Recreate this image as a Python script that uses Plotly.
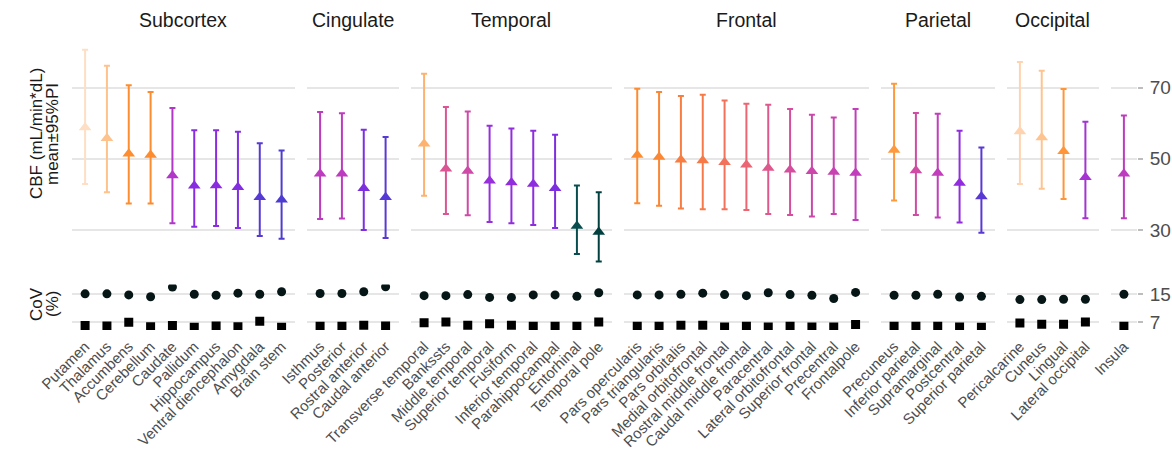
import plotly.graph_objects as go

# ---------------- data ----------------
group_titles = ["Subcortex", "Cingulate", "Temporal", "Frontal", "Parietal", "Occipital", ""]

subcortex_regions = ["Putamen", "Thalamus", "Accumbens", "Cerebellum", "Caudate", "Pallidum",
                     "Hippocampus", "Ventral diencephalon", "Amygdala", "Brain stem"]
subcortex_mean = [58.8, 55.8, 51.4, 51.1, 45.3, 42.4, 42.5, 42.0, 39.2, 38.5]
subcortex_lower = [42.9, 40.6, 37.4, 37.4, 31.9, 30.9, 31.1, 30.5, 28.3, 27.5]
subcortex_upper = [80.7, 76.2, 70.7, 68.8, 64.3, 58.0, 58.0, 57.6, 54.4, 52.3]
subcortex_cov_between = [15.0, 15.0, 14.7, 14.2, 16.9, 14.9, 14.6, 15.2, 14.9, 15.6]
subcortex_cov_within = [6.1, 6.0, 7.0, 5.8, 6.1, 5.6, 6.0, 5.8, 7.3, 5.6]

cingulate_regions = ["Isthmus", "Posterior", "Rostral anterior", "Caudal anterior"]
cingulate_mean = [45.8, 45.8, 41.7, 39.2]
cingulate_lower = [33.1, 33.2, 30.0, 27.7]
cingulate_upper = [63.2, 62.8, 58.2, 56.1]
cingulate_cov_between = [15.1, 15.1, 15.6, 17.0]
cingulate_cov_within = [5.9, 5.9, 6.2, 6.0]

temporal_regions = ["Transverse temporal", "Bankssts", "Middle temporal", "Superior temporal",
                    "Fusiform", "Inferior temporal", "Parahippocampal", "Entorhinal", "Temporal pole"]
temporal_mean = [54.2, 47.2, 46.6, 43.8, 43.3, 42.9, 41.7, 31.1, 29.4]
temporal_lower = [39.6, 34.5, 34.1, 32.2, 31.9, 31.4, 30.5, 23.2, 21.1]
temporal_upper = [73.9, 64.6, 63.3, 59.3, 58.5, 57.9, 56.8, 42.5, 40.6]
temporal_cov_between = [14.5, 14.5, 14.8, 14.0, 14.0, 14.7, 14.7, 14.3, 15.3]
temporal_cov_within = [6.9, 7.1, 6.2, 6.6, 6.2, 5.9, 5.9, 5.9, 7.1]

frontal_regions = ["Pars opercularis", "Pars triangularis", "Pars orbitalis", "Medial orbitofrontal",
                   "Rostral middle frontal", "Caudal middle frontal", "Paracentral",
                   "Lateral orbitofrontal", "Superior frontal", "Precentral", "Frontalpole"]
frontal_mean = [51.1, 50.5, 49.7, 49.5, 49.0, 48.3, 47.4, 46.9, 46.5, 46.3, 46.0]
frontal_lower = [37.5, 36.8, 36.0, 35.8, 35.8, 35.6, 34.5, 34.2, 33.8, 34.5, 32.8]
frontal_upper = [69.7, 68.8, 67.7, 68.0, 66.4, 65.5, 65.2, 64.0, 62.4, 61.6, 64.0]
frontal_cov_between = [14.7, 14.7, 14.9, 15.2, 14.8, 14.5, 15.3, 14.8, 14.6, 13.7, 15.4]
frontal_cov_within = [5.9, 5.9, 6.2, 6.2, 5.7, 5.9, 5.7, 5.9, 5.7, 5.7, 6.4]

parietal_regions = ["Precuneus", "Inferior parietal", "Supramarginal", "Postcentral", "Superior parietal"]
parietal_mean = [52.5, 46.7, 46.0, 43.2, 39.4]
parietal_lower = [38.3, 34.2, 33.5, 32.1, 29.2]
parietal_upper = [71.1, 62.9, 62.7, 57.9, 53.2]
parietal_cov_between = [14.6, 14.6, 14.9, 14.1, 14.3]
parietal_cov_within = [5.9, 5.9, 5.9, 5.7, 5.6]

occipital_regions = ["Pericalcarine", "Cuneus", "Lingual", "Lateral occipital"]
occipital_mean = [57.7, 56.0, 52.1, 44.8]
occipital_lower = [42.9, 41.6, 38.7, 33.3]
occipital_upper = [77.2, 74.8, 69.6, 60.4]
occipital_cov_between = [13.4, 13.4, 13.5, 13.5]
occipital_cov_within = [6.8, 6.5, 6.5, 7.1]

insula_regions = ["Insula"]
insula_mean = [45.8]
insula_lower = [33.3]
insula_upper = [62.2]
insula_cov_between = [14.9]
insula_cov_within = [5.9]

cbf_ticks = [30, 50, 70]
cov_ticks = [7, 15]

groups = [
    (subcortex_regions, subcortex_mean, subcortex_lower, subcortex_upper, subcortex_cov_between, subcortex_cov_within),
    (cingulate_regions, cingulate_mean, cingulate_lower, cingulate_upper, cingulate_cov_between, cingulate_cov_within),
    (temporal_regions, temporal_mean, temporal_lower, temporal_upper, temporal_cov_between, temporal_cov_within),
    (frontal_regions, frontal_mean, frontal_lower, frontal_upper, frontal_cov_between, frontal_cov_within),
    (parietal_regions, parietal_mean, parietal_lower, parietal_upper, parietal_cov_between, parietal_cov_within),
    (occipital_regions, occipital_mean, occipital_lower, occipital_upper, occipital_cov_between, occipital_cov_within),
    (insula_regions, insula_mean, insula_lower, insula_upper, insula_cov_between, insula_cov_within),
]

# ---------------- colour scale (value -> colour) ----------------
color_stops = [(29.0, "#003c3c"), (31.5, "#0b5252"), (37.0, "#3d44c9"), (39.5, "#5a37d6"),
               (42.5, "#8a2be2"), (44.5, "#9e31d8"), (46.0, "#c23dbb"), (47.3, "#dd5691"),
               (48.5, "#ee686c"), (50.0, "#fa8236"), (51.5, "#fe8e2e"), (52.5, "#fe9a3e"),
               (54.0, "#fdb06b"), (56.0, "#fec490"), (59.0, "#fee0c8")]


def hex2rgb(h):
    h = h.lstrip("#")
    return [int(h[i:i + 2], 16) for i in (0, 2, 4)]


def value_color(v):
    if v <= color_stops[0][0]:
        return color_stops[0][1]
    for (v0, c0), (v1, c1) in zip(color_stops[:-1], color_stops[1:]):
        if v0 <= v <= v1:
            t = (v - v0) / (v1 - v0)
            a, b = hex2rgb(c0), hex2rgb(c1)
            return "rgb(%d,%d,%d)" % tuple(round(a[i] + (b[i] - a[i]) * t) for i in range(3))
    return color_stops[-1][1]


# ---------------- layout geometry ----------------
W, H = 1172, 456
ML, MR, MT, MB = 72, 35, 39, 126
PW = W - ML - MR
PH = H - MT - MB
GAP_X = 12.3
TOP_H = 233.2
GAP_Y = 12.4
units = [len(g[0]) + 0.2 for g in groups]
unit_px = (PW - GAP_X * (len(groups) - 1)) / sum(units)

top_range = [18.1, 83.7]
bot_range = [4.86, 17.6]
top_dom = [(PH - TOP_H) / PH, 1.0]
bot_dom = [0.0, (PH - TOP_H - GAP_Y) / PH]

FONT = "Liberation Sans, Arial, sans-serif"
GRID = "#E6E6E6"
TXT = "#4D4D4D"


def px_x(sx):
    """screen x -> paper x"""
    return (sx - ML) / PW


def px_y(sy):
    """screen y -> paper y"""
    return (PH - (sy - MT)) / PH


fig = go.Figure()
layout = {}
annotations = []

x_cursor = 0.0
for gi, (regions, mean, lower, upper, cov_b, cov_w) in enumerate(groups):
    n = len(regions)
    w = units[gi] * unit_px
    d0, d1 = x_cursor / PW, min((x_cursor + w) / PW, 1.0)
    x_cursor += w + GAP_X
    last = gi == len(groups) - 1

    ti = gi + 1
    bi = gi + 1 + len(groups)
    xt, yt = f"x{ti}", f"y{ti}"
    xb, yb = f"x{bi}", f"y{bi}"

    common_x = dict(type="category", categoryorder="array", categoryarray=regions,
                    range=[-0.6, n - 0.4], showgrid=False, zeroline=False, showline=False,
                    fixedrange=True, automargin=False)
    layout[f"xaxis{ti}"] = dict(common_x, domain=[d0, d1], anchor=yt, showticklabels=False, ticks="")
    layout[f"xaxis{bi}"] = dict(common_x, domain=[d0, d1], anchor=yb, showticklabels=True, ticks="",
                                tickangle=-45, tickfont=dict(family=FONT, size=15, color=TXT),
                                ticklabelstandoff=4)
    ycommon = dict(showgrid=True, gridcolor=GRID, gridwidth=1.5, zeroline=False, showline=False,
                   fixedrange=True, side="right", ticklabelstandoff=3, automargin=False,
                   tickfont=dict(family=FONT, size=19, color=TXT))
    layout[f"yaxis{ti}"] = dict(ycommon, domain=top_dom, anchor=xt, range=top_range, tickvals=cbf_ticks,
                                showticklabels=last, ticks="outside" if last else "",
                                ticklen=5, tickwidth=1.5, tickcolor="#BDBDBD")
    layout[f"yaxis{bi}"] = dict(ycommon, domain=bot_dom, anchor=xb, range=bot_range, tickvals=cov_ticks,
                                showticklabels=last, ticks="outside" if last else "",
                                ticklen=5, tickwidth=1.5, tickcolor="#BDBDBD")

    for r, m, lo, up in zip(regions, mean, lower, upper):
        c = value_color(m)
        fig.add_trace(go.Scatter(
            x=[r], y=[m], mode="markers", xaxis=xt, yaxis=yt, showlegend=False,
            marker=dict(symbol="triangle-up", size=11, color=c),
            error_y=dict(type="data", symmetric=False, array=[up - m], arrayminus=[m - lo],
                         color=c, thickness=2, width=3),
            hovertemplate=f"{r}<br>mean %{{y}}<extra></extra>"))

    fig.add_trace(go.Scatter(x=regions, y=cov_b, mode="markers", xaxis=xb, yaxis=yb, showlegend=False,
                             marker=dict(symbol="circle", size=9, color="#061616")))
    fig.add_trace(go.Scatter(x=regions, y=cov_w, mode="markers", xaxis=xb, yaxis=yb, showlegend=False,
                             marker=dict(symbol="square", size=9, color="#000000")))

    if group_titles[gi]:
        annotations.append(dict(text=group_titles[gi], x=(d0 + d1) / 2, y=px_y(20),
                                xref="paper", yref="paper", xanchor="center", yanchor="middle",
                                showarrow=False, font=dict(family=FONT, size=19.5, color="#1A1A1A")))

# row (y) titles on the left, one annotation per line
title_font = dict(family=FONT, size=17, color="#1A1A1A")
for txt, sx, sy in [("CBF (mL/min*dL)", 36, 134), ("mean±95%PI", 52, 134),
                    ("CoV", 36, 304), ("(%)", 52, 304)]:
    annotations.append(dict(text=txt, x=px_x(sx), y=px_y(sy), xref="paper", yref="paper",
                            xanchor="center", yanchor="middle", textangle=-90, showarrow=False,
                            font=title_font))

fig.update_layout(
    template="none",
    width=W, height=H, margin=dict(l=ML, r=MR, t=MT, b=MB, pad=0, autoexpand=False),
    paper_bgcolor="white", plot_bgcolor="white", showlegend=False,
    annotations=annotations, font=dict(family=FONT), **layout)

# remove the default 8px page margin so the figure fills the window exactly
fig.write_html("out.html", config={"displayModeBar": False},
               post_script="document.body.style.margin='0';")
